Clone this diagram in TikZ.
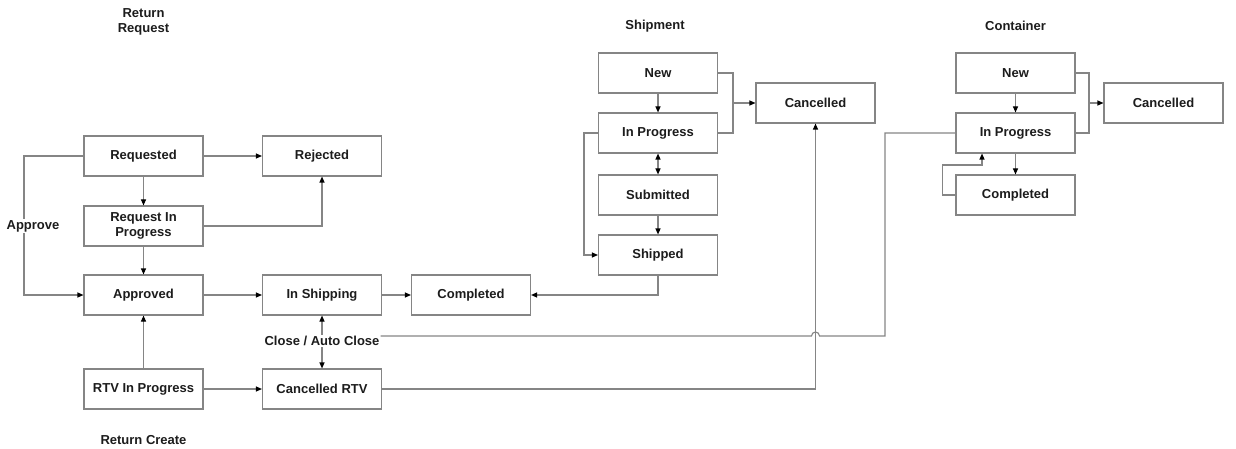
\documentclass[tikz,border=0pt]{standalone}
\usepackage{fontspec}
\setmainfont{Liberation Sans}
\usetikzlibrary{arrows.meta, positioning}
\definecolor{LineGray}{HTML}{858585}
\definecolor{TextDark}{HTML}{1C1C1C}

\begin{document}
\begin{tikzpicture}[x=1pt, y=-1pt,
        state/.style={draw=LineGray, fill=white, text=TextDark, line width=1.1pt,
                      minimum width=119pt, minimum height=40pt, inner sep=1pt,
                      align=center, font=\fontsize{13}{15}\selectfont\bfseries},
        caption/.style={text=TextDark, align=center, inner sep=1pt,
                        font=\fontsize{13}{15}\selectfont\bfseries},
        link/.style={draw=LineGray, line width=1.1pt},
        >={Triangle[length=6pt, width=5pt, color=black]}
      ]
        \useasboundingbox (0,0) rectangle (1236,449);
        % Return request / return create
        \node[state] (rreq)  at (143.5,156) {Requested};
        \node[state] (rrej)  at (322,156)   {Rejected};
        \node[state] (rrip)  at (143.5,226) {Request In\\Progress};
        \node[state] (rapp)  at (143.5,295) {Approved};
        \node[state] (rship) at (322,295)   {In Shipping};
        \node[state] (rcomp) at (471,295)   {Completed};
        \node[state] (rrtv)  at (143.5,389) {RTV In Progress};
        \node[state] (rcrtv) at (322,389)   {Cancelled RTV};
        % Shipment
        \foreach \n/\y/\t in {snew/73/New, sip/133/In Progress,
                              ssub/195/Submitted, sshp/255/Shipped}{
          \node[state] (\n) at (658,\y) {\t};
        }
        \node[state] (scan) at (815.5,103) {Cancelled};
        % Container
        \foreach \n/\y/\t in {cnew/73/New, cip/133/In Progress, ccomp/195/Completed}{
          \node[state] (\n) at (1015.5,\y) {\t};
        }
        \node[state] (ccan) at (1163.5,103) {Cancelled};
        % Group captions
        \node[caption] (trr) at (143.5,22)  {Return\\Request};
        \node[caption] (trc) at (143.5,440) {Return Create};
        \node[caption] (tsh) at (655,26)    {Shipment};
        \node[caption] (tco) at (1015.5,26) {Container};
        \node[caption] (lclose) at (322,341) {Close / Auto Close};
        % Edges: return request
        \draw[link,->] (rreq) -- (rrej);
        \draw[link,->] (rreq) -- (rrip);
        \draw[link,->] (rrip) -- (rapp);
        \draw[link,->] (rrip.east) -| (rrej.south);
        \coordinate (aptop) at (24,156);
        \draw[link,->] (rreq.west) -- (aptop) |- (rapp.west);
        \node[caption, fill=white] (lapprove) at (33,226) {Approve};
        \draw[link,->] (rapp) -- (rship);
        \draw[link,->] (rrtv) -- (rapp);
        \draw[link,->] (rrtv) -- (rcrtv);
        \draw[link,->] (rship) -- (rcomp);
        \draw[link,->] (lclose) -- (rship);
        \draw[link,->] (lclose) -- (rcrtv);
        % Edges: shipment
        \draw[link,->] (snew) -- (sip);
        \draw[link,<->] (sip) -- (ssub);
        \draw[link,->] (ssub) -- (sshp);
        \draw[link,->] (sip.west) -- ++(-14,0) |- (sshp.west);
        \draw[link,->] (sshp.south) |- (rcomp.east);
        \coordinate (sbr) at (733,103);
        \draw[link] (snew.east) -| (sbr) |- (sip.east);
        \draw[link,->] (sbr) -- (scan);
        \draw[link,->] (rcrtv.east) -| (scan.south);
        % Close / Auto Close -> container, hopping over the line above
        \coordinate (hop) at (811.5,336);
        \coordinate (cbend) at (885,336);
        \draw[link] (lclose.east |- hop) -- (hop)
          arc[start angle=180, end angle=0, radius=4pt] -- (cbend) |- (cip.west);
        % Edges: container
        \draw[link,->] (cnew) -- (cip);
        \draw[link,->] (cip) -- (ccomp);
        \coordinate (cloop) at (982,165);
        \draw[link,->] (ccomp.west) -- ++(-13,0) |- (cloop) -- (cloop |- cip.south);
        \coordinate (cbr) at (1089,103);
        \draw[link] (cnew.east) -| (cbr) |- (cip.east);
        \draw[link,->] (cbr) -- (ccan);
      \end{tikzpicture}
\end{document}
